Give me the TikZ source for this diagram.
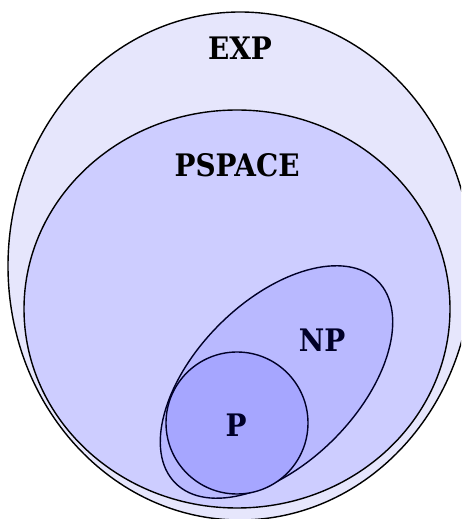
\documentclass[tikz,border=0pt]{standalone}
\usepackage{fontspec}
\setmainfont{DejaVu Serif Condensed}
\usepackage{tikz}
\definecolor{expfill}{RGB}{230,230,252}
\definecolor{psfill}{RGB}{205,205,255}
\definecolor{npfill}{RGB}{185,185,255}
\definecolor{pfill}{RGB}{166,166,255}
\definecolor{navy}{RGB}{0,0,40}
\tikzset{
  cls/.style={line width=1.4pt},
  lbl/.style={font=\fontsize{31}{36}\selectfont\bfseries}
}

\begin{document}
\begin{tikzpicture}[x=1pt, y=1pt]
      \useasboundingbox (0,0) rectangle (461,519);
      \begin{scope}
        \clip (0,0) rectangle (461,519);
        % outer classes
        \draw[cls, fill=expfill] (240,253) ellipse [x radius=232, y radius=254];
        \draw[cls, fill=psfill] (237,210) ellipse [x radius=213, y radius=199];
        % inner classes
        \draw[cls, draw=navy, fill=npfill, rotate around={45:(276.5,137)}]
          (276.5,137) ellipse [x radius=143, y radius=81];
        \draw[cls, draw=navy, fill=pfill] (237,96) circle (71);
      \end{scope}
      \node[lbl] (exp) at (240,471) {EXP};
      \node[lbl] (pspace) at (237,354) {PSPACE};
      \node[lbl, text=navy] (np) at (322,179) {NP};
      \node[lbl, text=navy] (p) at (236,94) {P};
    \end{tikzpicture}
\end{document}
